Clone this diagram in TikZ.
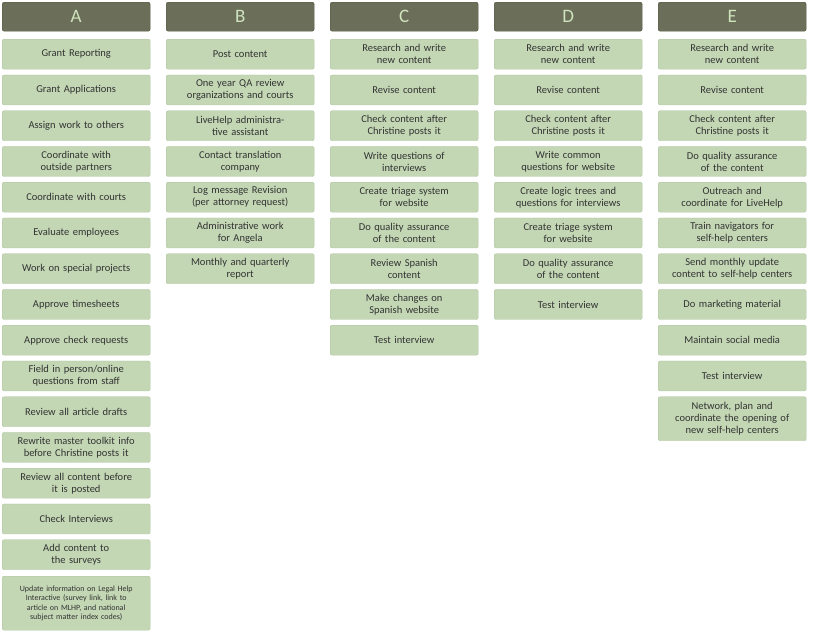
\documentclass[tikz,border=0pt]{standalone}
\usepackage{fontspec}
\setmainfont{Carlito}
\definecolor{hdr}{HTML}{6B6E58}
\definecolor{hdrtxt}{HTML}{CFE3BE}
\definecolor{boxf}{HTML}{C3D7B4}
\definecolor{boxd}{HTML}{B0C4A2}
\tikzset{
 hbox/.style={draw=hdr!80!black,fill=hdr,rounded corners=2pt,minimum width=148pt,minimum height=29pt,inner sep=0pt,text=hdrtxt,font=\fontsize{19}{19}\selectfont},
 tbox/.style={draw=boxd,fill=boxf,rounded corners=2pt,minimum width=148pt,minimum height=30pt,inner sep=1pt,text width=144pt,align=center,text=black!80,font=\fontsize{10.5}{12}\selectfont},
}
\newcommand{\colitems}[3]{% #1 column letter, #2 left x, #3 list
 \foreach \t [count=\i from 0] in {#3} {
  \node[tbox,anchor=north west] (#1\i) at (#2pt,{-39pt-35.75pt*\i}) {\t};
 }}
\begin{document}
\begin{tikzpicture}[x=1pt,y=1pt]
\useasboundingbox (0,0) rectangle (815,-633);
\foreach \L/\X in {A/2,B/166,C/330,D/494,E/658}
  \node[hbox,anchor=north west] (h\L) at (\X,-2) {\L};
\colitems{A}{2}{Grant Reporting,Grant Applications,Assign work to others,Coordinate with\\outside partners,Coordinate with courts,Evaluate employees,Work on special projects,Approve timesheets,Approve check requests,Field in person/online\\questions from staff,Review all article drafts,Rewrite master toolkit info\\before Christine posts it,Review all content before\\it is posted,Check Interviews,Add content to\\the surveys}
\node[tbox,anchor=north west,minimum height=54pt,font=\fontsize{8}{9.5}\selectfont] (A15) at (2,-576) {Update information on Legal Help\\Interactive (survey link, link to\\article on MLHP, and national\\subject matter index codes)};
\colitems{B}{166}{Post content,One year QA review\\organizations and courts,LiveHelp administra-\\tive assistant,Contact translation\\company,Log message Revision\\(per attorney request),Administrative work\\for Angela,Monthly and quarterly\\report}
\colitems{C}{330}{Research and write\\new content,Revise content,Check content after\\Christine posts it,Write questions of\\interviews,Create triage system\\for website,Do quality assurance\\of the content,Review Spanish\\content,Make changes on\\Spanish website,Test interview}
\colitems{D}{494}{Research and write\\new content,Revise content,Check content after\\Christine posts it,Write common\\questions for website,Create logic trees and\\questions for interviews,Create triage system\\for website,Do quality assurance\\of the content,Test interview}
\colitems{E}{658}{Research and write\\new content,Revise content,Check content after\\Christine posts it,Do quality assurance\\of the content,Outreach and\\coordinate for LiveHelp,Train navigators for\\self-help centers,Send monthly update\\content to self-help centers,Do marketing material,Maintain social media,Test interview}
\node[tbox,anchor=north west,minimum height=44pt] (E10) at (658,-396.5) {Network, plan and\\coordinate the opening of\\new self-help centers};
\end{tikzpicture}
\end{document}
